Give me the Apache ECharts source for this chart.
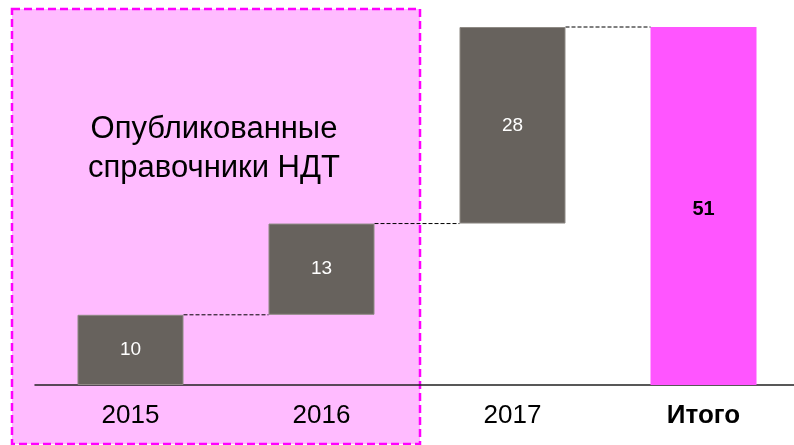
<!DOCTYPE html>
<html>
<head>
<meta charset="utf-8">
<script src="https://cdn.jsdelivr.net/npm/echarts@6/dist/echarts.min.js"></script>
<style>
  html, body { margin: 0; padding: 0; background: #ffffff; }
  #chart { width: 794px; height: 445px; }
</style>
</head>
<body>
<div id="chart"></div>
<script>
// категории и значения
const categories = ['2015', '2016', '2017', 'Итого'];
const increments = [10, 13, 28, 51];
const totalIndex = 3;
const boxTitle = 'Опубликованные\nсправочники НДТ';

// невидимое основание для "ступенек"
const bases = [];
let run = 0;
increments.forEach(function (v, i) {
  if (i === totalIndex) { bases.push(0); } else { bases.push(run); run += v; }
});
// уровни для пунктирных соединителей
const steps = [];
for (let i = 0; i < increments.length - 1; i++) {
  steps.push([i, bases[i] + increments[i]]);
}

const BAR_RATIO = 0.555;

const chart = echarts.init(document.getElementById('chart'));
chart.setOption({
  backgroundColor: '#ffffff',
  animation: false,
  textStyle: { fontFamily: 'Liberation Sans, Arial, sans-serif' },
  graphic: [
    {
      type: 'rect',
      z: -10,
      shape: { x: 12, y: 9, width: 408, height: 435 },
      style: { fill: '#ffbbff', stroke: '#ff00ff', lineWidth: 2.5, lineDash: [8, 4] }
    },
    {
      type: 'text',
      z: -5,
      x: 214,
      y: 149,
      style: {
        text: boxTitle,
        fill: '#000000',
        font: '31px "Liberation Sans", Arial, sans-serif',
        lineHeight: 39,
        align: 'center',
        verticalAlign: 'middle'
      }
    }
  ],
  grid: { left: 35, right: -5, top: 27, bottom: 60, outerBoundsMode: 'none' },
  xAxis: {
    type: 'category',
    data: categories,
    axisTick: { show: false },
    axisLine: { lineStyle: { color: '#222222', width: 1.5 } },
    axisLabel: {
      color: '#000000',
      fontSize: 26,
      margin: 18,
      formatter: function (v) { return v === 'Итого' ? '{b|' + v + '}' : v; },
      rich: { b: { fontSize: 26, fontWeight: 'bold', color: '#000000' } }
    }
  },
  yAxis: { type: 'value', min: 0, max: 51, show: false, splitLine: { show: false } },
  series: [
    {
      type: 'bar',
      stack: 'w',
      barWidth: (BAR_RATIO * 100) + '%',
      itemStyle: { color: 'transparent' },
      emphasis: { disabled: true },
      data: bases
    },
    {
      type: 'bar',
      stack: 'w',
      barWidth: (BAR_RATIO * 100) + '%',
      data: increments.map(function (v, i) {
        if (i === totalIndex) {
          return {
            value: v,
            itemStyle: { color: '#ff55ff', borderWidth: 0 },
            label: { color: '#000000', fontWeight: 'bold', fontSize: 20, offset: [0, 3] }
          };
        }
        return v;
      }),
      itemStyle: { color: '#67625d', borderColor: '#8f8a85', borderWidth: 1 },
      label: { show: true, position: 'inside', color: '#ffffff', fontSize: 19 }
    },
    {
      type: 'custom',
      data: steps,
      z: 5,
      renderItem: function (params, api) {
        const p = api.coord([api.value(0), api.value(1)]);
        const band = api.size([1, 0])[0];
        const half = band * BAR_RATIO / 2;
        return {
          type: 'line',
          shape: { x1: p[0] + half, y1: p[1], x2: p[0] + band - half, y2: p[1] },
          style: { stroke: '#000000', lineWidth: 1, lineDash: [4, 2] }
        };
      }
    }
  ]
});
</script>
</body>
</html>
